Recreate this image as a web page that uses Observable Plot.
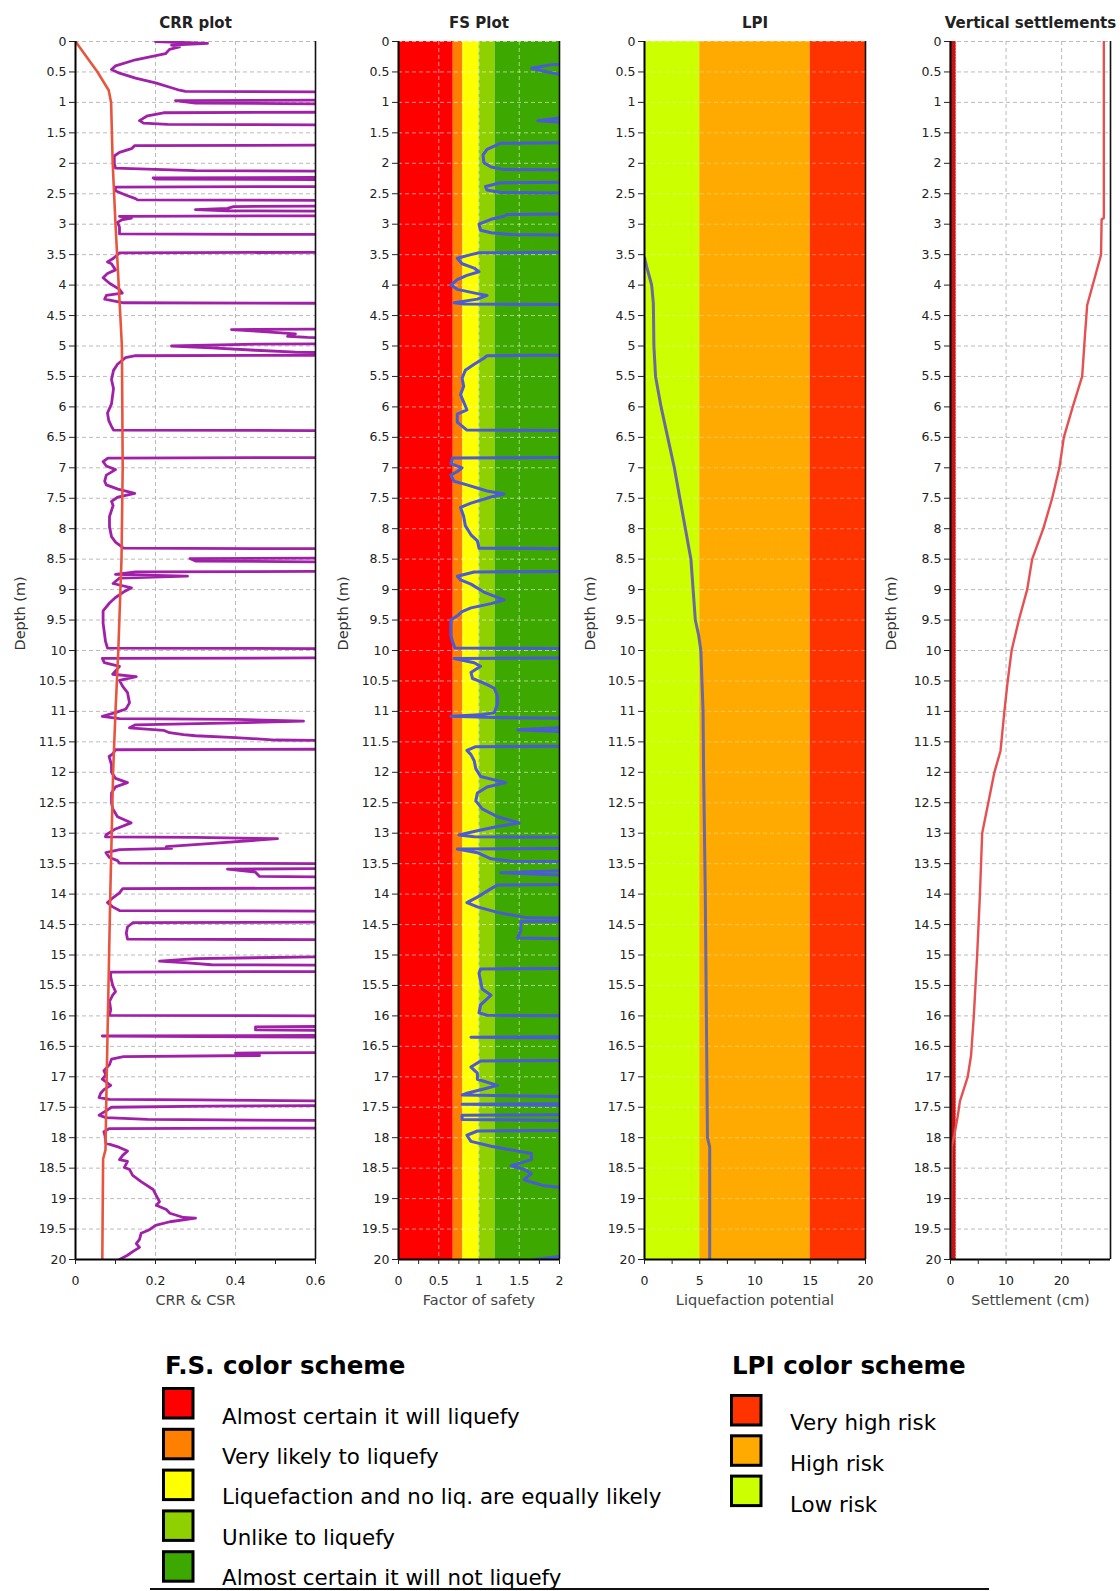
<!DOCTYPE html>
<html><head><meta charset="utf-8">
<script src="https://cdn.jsdelivr.net/npm/d3@7"></script>
<script src="https://cdn.jsdelivr.net/npm/@observablehq/plot@0.6"></script>
<style>
html,body{margin:0;padding:0;background:#fff;}
#root{position:relative;width:1120px;height:1591px;overflow:hidden;font-family:"DejaVu Sans",Verdana,sans-serif;}
#root > svg{position:absolute;top:0;}
</style></head><body><div id="root"></div>
<script>
// ---------- tick values ----------
const depthTicks = [0,0.5,1,1.5,2,2.5,3,3.5,4,4.5,5,5.5,6,6.5,7,7.5,8,8.5,9,9.5,10,10.5,11,11.5,12,12.5,13,13.5,14,14.5,15,15.5,16,16.5,17,17.5,18,18.5,19,19.5,20];
const crrTicks = [0,0.1,0.2,0.3,0.4,0.5,0.6];
const crrLabels = [0,0.2,0.4,0.6];
const fsTicks = [0,0.25,0.5,0.75,1,1.25,1.5,1.75,2];
const fsLabels = [0,0.5,1,1.5,2];
const lpiTicks = [0,2.5,5,7.5,10,12.5,15,17.5,20];
const lpiLabels = [0,5,10,15,20];
const setTicks = [0,5,10,15,20,25];
const setLabels = [0,10,20];

// ---------- band definitions ----------
const fsBandEdges = [0,0.68,0.8,1.0,1.2,2.0];
const fsBandColors = ["#ff0000","#ff8000","#ffff00","#8fd000","#3ca800"];
const fsLegendText = ["Almost certain it will liquefy","Very likely to liquefy","Liquefaction and no liq. are equally likely","Unlike to liquefy","Almost certain it will not liquefy"];
const lpiBandEdges = [0,5,15,20];
const lpiBandColors = ["#ccff00","#ffaa00","#ff3300"];
const lpiLegendColors = ["#ff3300","#ffaa00","#ccff00"];
const lpiLegendText = ["Very high risk","High risk","Low risk"];

// ---------- profiles [depth (m), value] ----------
const crrProfile = [
[0.00,0.20],[0.03,0.33],[0.06,0.24],[0.09,0.26],[0.13,0.235],[0.20,0.225],[0.30,0.15],[0.40,0.10],[0.46,0.09],[0.52,0.11],[0.60,0.15],[0.68,0.20],[0.76,0.24],[0.80,0.26],[0.82,0.275],[0.83,0.7],
[0.96,0.7],[0.97,0.25],[1.01,0.30],[1.03,0.7],
[1.16,0.7],[1.17,0.22],[1.22,0.18],[1.30,0.16],[1.34,0.17],[1.36,0.23],[1.37,0.7],
[1.70,0.7],[1.71,0.148],[1.76,0.14],[1.82,0.11],[1.88,0.097],[2.00,0.097],[2.08,0.10],[2.12,0.30],[2.13,0.7],
[2.23,0.7],[2.24,0.194],[2.26,0.20],[2.27,0.7],
[2.38,0.7],[2.39,0.10],[2.45,0.10],[2.52,0.125],[2.58,0.15],[2.60,0.155],[2.61,0.7],
[2.70,0.7],[2.71,0.395],[2.74,0.38],[2.76,0.30],[2.78,0.38],[2.79,0.7],
[2.86,0.7],[2.87,0.11],[2.90,0.14],[2.93,0.115],[2.97,0.105],[3.05,0.11],[3.16,0.11],[3.17,0.7],
[3.46,0.7],[3.47,0.11],[3.56,0.095],[3.62,0.08],[3.65,0.09],[3.75,0.10],[3.81,0.08],[3.88,0.069],[3.97,0.085],[4.07,0.11],[4.13,0.117],[4.17,0.077],[4.23,0.073],[4.29,0.12],[4.30,0.7],
[4.72,0.7],[4.73,0.39],[4.76,0.46],[4.80,0.55],[4.84,0.53],[4.86,0.58],[4.87,0.7],
[4.96,0.7],[4.97,0.45],[5.00,0.24],[5.03,0.34],[5.07,0.45],[5.10,0.55],[5.11,0.7],
[5.15,0.7],[5.16,0.15],[5.19,0.125],[5.30,0.105],[5.40,0.095],[5.55,0.09],[5.70,0.095],[5.95,0.09],[6.10,0.08],[6.22,0.083],[6.32,0.09],[6.38,0.095],[6.39,0.7],
[6.83,0.7],[6.84,0.081],[6.90,0.069],[6.97,0.077],[7.03,0.10],[7.12,0.077],[7.22,0.073],[7.28,0.077],[7.35,0.106],[7.42,0.148],[7.48,0.106],[7.55,0.09],[7.62,0.094],[7.80,0.085],[7.97,0.085],[8.13,0.09],[8.22,0.10],[8.32,0.12],[8.33,0.7],
[8.48,0.7],[8.49,0.286],[8.53,0.30],[8.55,0.7],
[8.70,0.7],[8.71,0.15],[8.75,0.10],[8.78,0.28],[8.81,0.11],[8.90,0.094],[8.97,0.14],[9.04,0.12],[9.13,0.10],[9.22,0.085],[9.35,0.069],[9.55,0.069],[9.70,0.072],[9.85,0.075],[9.96,0.08],[9.97,0.7],
[10.12,0.7],[10.13,0.067],[10.20,0.072],[10.26,0.11],[10.39,0.093],[10.43,0.152],[10.49,0.11],[10.59,0.118],[10.69,0.13],[10.86,0.135],[10.96,0.126],[11.02,0.10],[11.08,0.067],[11.12,0.11],[11.13,0.40],[11.16,0.57],[11.19,0.40],[11.22,0.15],[11.27,0.135],[11.31,0.22],[11.35,0.235],[11.38,0.27],[11.40,0.30],[11.43,0.40],[11.47,0.50],[11.48,0.7],
[11.62,0.7],[11.63,0.10],[11.70,0.093],[11.74,0.084],[11.88,0.09],[12.00,0.09],[12.10,0.10],[12.17,0.13],[12.24,0.10],[12.34,0.09],[12.50,0.09],[12.60,0.093],[12.73,0.105],[12.83,0.139],[12.93,0.10],[13.03,0.076],[13.06,0.075],[13.07,0.30],[13.09,0.505],[13.16,0.36],[13.22,0.227],[13.25,0.24],[13.27,0.11],[13.32,0.076],[13.40,0.085],[13.45,0.105],[13.49,0.11],[13.50,0.7],
[13.58,0.7],[13.59,0.38],[13.64,0.45],[13.71,0.46],[13.72,0.7],
[13.90,0.7],[13.91,0.118],[13.98,0.11],[14.08,0.09],[14.14,0.08],[14.21,0.093],[14.27,0.11],[14.28,0.7],
[14.46,0.7],[14.47,0.143],[14.54,0.13],[14.64,0.127],[14.74,0.13],[14.75,0.7],
[15.02,0.7],[15.06,0.30],[15.10,0.21],[15.13,0.28],[15.16,0.34],[15.17,0.7],
[15.27,0.7],[15.28,0.088],[15.36,0.088],[15.50,0.093],[15.60,0.10],[15.66,0.093],[15.76,0.085],[15.90,0.088],[15.99,0.085],[16.00,0.7],
[16.17,0.7],[16.18,0.45],[16.23,0.45],[16.24,0.7],
[16.32,0.7],[16.33,0.067],[16.35,0.7],
[16.60,0.7],[16.61,0.40],[16.65,0.46],[16.67,0.12],[16.71,0.09],[16.80,0.085],[16.90,0.071],[16.97,0.076],[17.04,0.067],[17.14,0.088],[17.21,0.071],[17.27,0.063],[17.34,0.059],[17.37,0.085],[17.38,0.30],[17.40,0.7],
[17.47,0.7],[17.48,0.33],[17.50,0.09],[17.56,0.076],[17.63,0.059],[17.67,0.076],[17.70,0.18],[17.72,0.7],
[17.84,0.7],[17.85,0.085],[17.90,0.071],[18.00,0.075],[18.09,0.076],[18.16,0.11],[18.22,0.13],[18.29,0.118],[18.36,0.11],[18.39,0.13],[18.49,0.122],[18.52,0.135],[18.62,0.143],[18.72,0.164],[18.85,0.194],[18.95,0.202],[19.05,0.21],[19.11,0.202],[19.18,0.227],[19.24,0.236],[19.31,0.27],[19.32,0.30],[19.38,0.236],[19.44,0.20],[19.51,0.185],[19.57,0.164],[19.67,0.16],[19.74,0.152],[19.80,0.16],[19.87,0.143],[19.93,0.13],[20.00,0.11]
];
const csrProfile = [[0,0],[0.5,0.055],[0.8,0.083],[1.0,0.089],[2.0,0.093],[3.0,0.10],[4.0,0.108],[4.5,0.112],[5.0,0.116],[7.0,0.118],[8.5,0.115],[10.0,0.107],[11.0,0.10],[12.0,0.094],[14.0,0.087],[16.0,0.081],[17.0,0.078],[18.2,0.075],[18.35,0.069],[20.0,0.067]];
const fsProfile = [
[0.00,2.3],[0.37,2.3],[0.38,1.9],[0.44,1.65],[0.50,1.85],[0.62,2.3],
[1.21,2.3],[1.30,1.73],[1.35,2.3],
[1.66,2.3],[1.67,1.27],[1.77,1.10],[1.86,1.05],[1.99,1.06],[2.06,1.15],[2.10,1.30],[2.11,2.3],
[2.31,2.3],[2.32,1.27],[2.38,1.08],[2.44,1.10],[2.48,1.27],[2.49,2.3],
[2.83,2.3],[2.84,1.35],[2.87,1.31],[2.92,1.15],[3.00,1.00],[3.10,1.02],[3.14,1.15],[3.17,1.40],[3.18,2.3],
[3.46,2.3],[3.47,1.00],[3.50,0.90],[3.56,0.73],[3.65,0.79],[3.72,0.94],[3.78,1.00],[3.84,0.85],[3.91,0.73],[4.00,0.65],[4.07,0.73],[4.14,0.98],[4.17,1.10],[4.23,0.98],[4.29,0.69],[4.31,0.81],[4.32,2.3],
[5.15,2.3],[5.16,1.10],[5.20,1.06],[5.30,0.94],[5.40,0.83],[5.53,0.79],[5.66,0.81],[5.80,0.77],[5.92,0.81],[6.05,0.85],[6.12,0.73],[6.25,0.73],[6.38,0.85],[6.39,2.3],
[6.83,2.3],[6.84,0.67],[6.93,0.65],[7.00,0.79],[7.06,0.73],[7.12,0.65],[7.22,0.69],[7.28,0.85],[7.38,1.10],[7.43,1.31],[7.48,1.15],[7.58,0.90],[7.65,0.77],[7.80,0.81],[7.95,0.83],[8.10,0.90],[8.20,0.98],[8.32,1.00],[8.33,2.3],
[8.70,2.3],[8.71,0.94],[8.78,0.73],[8.84,0.77],[8.91,0.90],[9.04,1.06],[9.17,1.31],[9.23,1.15],[9.30,0.90],[9.36,0.79],[9.43,0.73],[9.50,0.65],[9.60,0.65],[9.75,0.65],[9.85,0.67],[9.96,0.70],[9.97,2.3],
[10.12,2.3],[10.13,0.69],[10.20,0.94],[10.26,1.02],[10.36,0.90],[10.46,0.92],[10.49,0.98],[10.56,1.10],[10.62,1.19],[10.75,1.23],[10.88,1.23],[11.02,1.19],[11.05,1.06],[11.08,0.65],[11.10,1.20],[11.12,2.3],
[11.25,2.3],[11.30,1.48],[11.35,2.3],
[11.57,2.3],[11.58,0.96],[11.64,0.85],[11.71,0.90],[11.81,0.94],[11.94,0.96],[12.07,1.02],[12.17,1.33],[12.24,1.10],[12.34,0.98],[12.47,0.96],[12.60,1.04],[12.73,1.23],[12.83,1.50],[12.89,1.23],[12.96,0.98],[13.03,0.75],[13.06,0.94],[13.07,2.3],
[13.25,2.3],[13.26,0.73],[13.32,0.98],[13.42,1.15],[13.46,1.40],[13.47,2.3],
[13.60,2.3],[13.65,1.27],[13.70,2.3],
[13.84,2.3],[13.85,1.23],[13.91,1.15],[14.05,0.98],[14.14,0.85],[14.21,0.98],[14.30,1.23],[14.39,1.60],[14.40,2.3],
[14.44,2.3],[14.45,1.52],[14.60,1.52],[14.72,1.48],[14.74,2.3],
[15.22,2.3],[15.23,1.02],[15.30,1.00],[15.43,1.02],[15.56,1.04],[15.66,1.15],[15.72,1.10],[15.82,1.02],[15.95,1.00],[15.99,1.10],[16.00,2.3],
[16.34,2.3],[16.35,0.90],[16.36,2.3],
[16.73,2.3],[16.74,1.02],[16.84,0.90],[16.94,0.98],[17.04,0.98],[17.14,1.23],[17.20,1.06],[17.27,0.85],[17.30,0.79],[17.33,2.3],
[17.44,2.3],[17.45,0.79],[17.47,2.3],
[17.62,2.3],[17.63,0.79],[17.70,0.79],[17.72,2.3],
[17.88,2.3],[17.89,0.98],[17.96,0.85],[18.06,0.90],[18.14,1.15],[18.20,1.40],[18.26,1.65],[18.36,1.65],[18.46,1.40],[18.52,1.56],[18.59,1.65],[18.69,1.56],[18.79,1.81],[18.85,2.3],
[19.90,2.3],[20.00,1.69]
];
const lpiProfile = [[3.55,0],[3.7,0.2],[3.9,0.5],[4.0,0.65],[4.3,0.8],[5.0,0.85],[5.5,1.0],[6.0,1.5],[6.5,2.1],[7.0,2.7],[7.5,3.2],[8.0,3.7],[8.5,4.2],[9.0,4.4],[9.5,4.6],[9.75,4.9],[10.0,5.1],[11.0,5.3],[12.0,5.35],[14.0,5.5],[16.0,5.6],[18.0,5.7],[18.15,5.9],[20.0,5.9]];
const settlementProfile = [[0,27.6],[2.9,27.6],[2.92,27.2],[3.5,27.1],[3.9,25.9],[4.33,24.6],[4.83,24.2],[5.5,23.7],[6.0,22.0],[6.5,20.4],[7.0,19.6],[7.5,18.3],[8.0,16.7],[8.5,14.7],[9.0,13.8],[9.5,12.3],[10.0,11.0],[10.5,10.3],[11.0,9.7],[11.65,9.0],[12.0,7.9],[12.5,6.8],[13.0,5.7],[13.5,5.5],[14.0,5.3],[15.0,4.8],[16.0,4.2],[16.65,3.7],[17.0,3.1],[17.4,1.7],[17.65,1.3],[17.95,0.7],[18.15,0.2],[20.0,0]];
const settlementLimit = [0.4];

// ---------- helpers ----------
const near = (arr, v) => arr.some(a => Math.abs(a - v) < 1e-9);
const bands = (edges, colors) => colors.map((c, i) => ({x1: edges[i], x2: edges[i + 1], fill: c}));
const root = document.getElementById("root");
const H = 1320, MT = 41, MB = 61;

function panel(cfg) {
  const fig = Plot.plot({
    width: cfg.width, height: H,
    marginTop: MT, marginBottom: MB, marginLeft: cfg.ml, marginRight: cfg.mr,
    x: {domain: cfg.xDomain},
    y: {domain: [0, 20], reverse: true},
    color: {type: "identity"},
    style: {fontFamily: "'DejaVu Sans', Verdana, sans-serif", fontSize: "12.5px", color: "#222", background: "transparent", overflow: "visible"},
    marks: [
      ...(cfg.back || []),
      Plot.ruleY(depthTicks, {stroke: cfg.grid, strokeOpacity: cfg.gridOpacity, strokeDasharray: "4,3", strokeWidth: 1}),
      Plot.ruleX(cfg.xGrid, {stroke: cfg.grid, strokeOpacity: cfg.gridOpacity, strokeDasharray: "4,3", strokeWidth: 1}),
      ...cfg.front,
      Plot.ruleX([cfg.xDomain[1]], {stroke: "#111", strokeWidth: 1.6}),
      Plot.ruleX([cfg.xDomain[0]], {stroke: "#000", strokeWidth: 2}),
      Plot.ruleY([20], {stroke: "#000", strokeWidth: 2}),
      Plot.axisY({ticks: depthTicks, tickFormat: d => String(d), tickSize: 6, tickPadding: 3, label: null, fill: "#222"}),
      Plot.axisX({ticks: cfg.xTicks, tickFormat: d => near(cfg.xLabels, d) ? String(d) : "", tickSize: 5, tickPadding: 12, label: null, fill: "#222"}),
      Plot.text([cfg.title], {text: d => d, frameAnchor: "top", dy: -24, fontSize: 15, fontWeight: "bold", fill: "#222"}),
      Plot.text([cfg.xLabel], {text: d => d, frameAnchor: "bottom", dy: 45, fontSize: 14.5, fill: "#444"}),
      Plot.text(["Depth (m)"], {text: d => d, frameAnchor: "left", dx: cfg.ylDx, rotate: -90, fontSize: 14.5, fill: "#333"})
    ]
  });
  fig.style.left = cfg.left + "px";
  root.appendChild(fig);
}

// CRR plot
panel({
  left: 0, width: 330, ml: 75, mr: 15, xDomain: [0, 0.6], xTicks: crrTicks, xLabels: crrLabels,
  xGrid: [0.2, 0.4], grid: "#aaa", gridOpacity: 0.8,
  title: "CRR plot", xLabel: "CRR & CSR", ylDx: -55,
  front: [
    Plot.line(crrProfile, {x: d => d[1], y: d => d[0], stroke: "#a020a8", strokeWidth: 2.8, clip: true}),
    Plot.line(csrProfile, {x: d => d[1], y: d => d[0], stroke: "#e8553e", strokeWidth: 2.6, clip: true})
  ]
});

// FS plot
panel({
  left: 330, width: 240, ml: 68, mr: 11, xDomain: [0, 2], xTicks: fsTicks, xLabels: fsLabels,
  xGrid: [0.5, 1, 1.5], grid: "#fff", gridOpacity: 0.55,
  title: "FS Plot", xLabel: "Factor of safety", ylDx: -55,
  back: [Plot.rect(bands(fsBandEdges, fsBandColors), {x1: "x1", x2: "x2", y1: 0, y2: 20, fill: "fill"})],
  front: [
    Plot.line(fsProfile, {x: d => d[1], y: d => d[0], stroke: "#4a5bd4", strokeWidth: 3, clip: true})
  ]
});

// LPI plot
panel({
  left: 575, width: 300, ml: 69, mr: 10, xDomain: [0, 20], xTicks: lpiTicks, xLabels: lpiLabels,
  xGrid: [], grid: "#fff", gridOpacity: 0.35,
  title: "LPI", xLabel: "Liquefaction potential", ylDx: -54,
  back: [Plot.rect(bands(lpiBandEdges, lpiBandColors), {x1: "x1", x2: "x2", y1: 0, y2: 20, fill: "fill"})],
  front: [
    Plot.line(lpiProfile, {x: d => d[1], y: d => d[0], stroke: "#6c6a9c", strokeWidth: 3, clip: true})
  ]
});

// Settlement plot
panel({
  left: 875, width: 245, ml: 75, mr: 10, xDomain: [0, 28.8], xTicks: setTicks, xLabels: setLabels,
  xGrid: [10, 20], grid: "#aaa", gridOpacity: 0.8,
  title: "Vertical settlements", xLabel: "Settlement (cm)", ylDx: -59,
  front: [
    Plot.ruleX(settlementLimit, {stroke: "#c41414", strokeWidth: 6}),
    Plot.ruleX(settlementLimit, {stroke: "#ff9090", strokeWidth: 1, strokeDasharray: "1,2", dx: 3}),
    Plot.line(settlementProfile, {x: d => d[1], y: d => d[0], stroke: "#e65050", strokeWidth: 2.4, clip: true})
  ]
});

// ---------- legends ----------
const lg = d3.select(root).append("svg")
  .attr("width", 1120).attr("height", 1591)
  .style("left", "0px").style("top", "0px")
  .style("font-family", "'DejaVu Sans', Verdana, sans-serif");

lg.append("text").attr("x", 165).attr("y", 1374).attr("font-size", 24.5).attr("font-weight", "bold").attr("fill", "#000").text("F.S. color scheme");
fsBandColors.forEach((c, i) => {
  lg.append("rect").attr("x", 163.5).attr("y", 1388.5 + i * 40.8).attr("width", 29.5).attr("height", 29.5)
    .attr("fill", c).attr("stroke", "#000").attr("stroke-width", 3);
  lg.append("text").attr("x", 222).attr("y", 1424 + i * 40.2).attr("font-size", 21.4).attr("fill", "#000").text(fsLegendText[i]);
});

lg.append("text").attr("x", 732).attr("y", 1374).attr("font-size", 24.5).attr("font-weight", "bold").attr("fill", "#000").text("LPI color scheme");
lpiLegendColors.forEach((c, i) => {
  lg.append("rect").attr("x", 731.5).attr("y", 1395.5 + i * 40.3).attr("width", 29.5).attr("height", 29.5)
    .attr("fill", c).attr("stroke", "#000").attr("stroke-width", 3);
  lg.append("text").attr("x", 790).attr("y", 1430 + i * 40.8).attr("font-size", 21.4).attr("fill", "#000").text(lpiLegendText[i]);
});

lg.append("line").attr("x1", 150).attr("x2", 989).attr("y1", 1589).attr("y2", 1589).attr("stroke", "#111").attr("stroke-width", 2);
</script></body></html>
